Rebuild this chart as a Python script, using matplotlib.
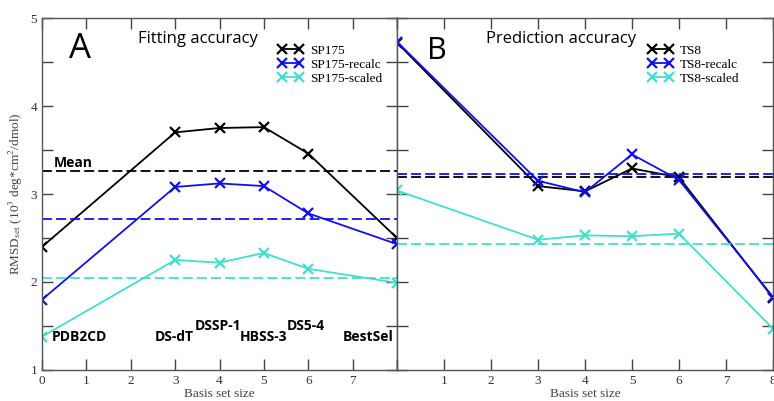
import matplotlib
matplotlib.use("Agg")
import matplotlib.pyplot as plt
from matplotlib.ticker import MultipleLocator, FixedLocator, FixedFormatter

# ---------------- data ----------------
basis_sizes = [0, 3, 4, 5, 6, 8]

sp175 = [2.40, 3.70, 3.75, 3.76, 3.46, 2.50]
sp175_recalc = [1.80, 3.08, 3.12, 3.09, 2.78, 2.43]
sp175_scaled = [1.38, 2.25, 2.22, 2.33, 2.15, 1.99]
sp175_means = [3.26, 2.72, 2.05]

ts8 = [4.72, 3.09, 3.03, 3.29, 3.19, 1.82]
ts8_recalc = [4.73, 3.15, 3.02, 3.45, 3.16, 1.83]
ts8_scaled = [3.04, 2.48, 2.53, 2.52, 2.55, 1.47]
ts8_means = [3.19, 3.23, 2.43]

left_labels = ["SP175", "SP175-recalc", "SP175-scaled"]
right_labels = ["TS8", "TS8-recalc", "TS8-scaled"]

left_xticklabels = ["0", "1", "2", "3", "4", "5", "6", "7", ""]
right_xticklabels = ["", "1", "2", "3", "4", "5", "6", "7", "8"]

method_names = ["PDB2CD", "DS-dT", "DSSP-1", "HBSS-3", "DS5-4", "BestSel"]
method_pos = [(0.22, 1.375), (2.55, 1.375), (3.45, 1.50), (4.46, 1.375), (5.52, 1.50), (6.78, 1.375)]

colors = ["#000000", "#1010ee", "#40e0d0"]

# ---------------- figure ----------------
plt.rcParams["mathtext.fontset"] = "stix"
serif = "Liberation Serif"
sans = "Open Sans"

W, H = 774, 401
fig = plt.figure(figsize=(W / 100, H / 100), dpi=100)
axL = fig.add_axes([42 / W, (H - 370) / H, 355 / W, 352 / H])
axR = fig.add_axes([397 / W, (H - 370) / H, 376 / W, 352 / H])

def style(ax, xticklabels):
    ax.set_xlim(0, 8)
    ax.set_ylim(1, 5)
    ax.xaxis.set_major_locator(FixedLocator(range(9)))
    ax.xaxis.set_major_formatter(FixedFormatter(xticklabels))
    ax.yaxis.set_major_locator(MultipleLocator(1))
    ax.yaxis.set_minor_locator(MultipleLocator(0.5))
    ax.tick_params(which="both", direction="in", top=True, right=True,
                   color="#444444", width=1.0)
    ax.tick_params(which="major", length=8)
    ax.tick_params(which="minor", length=8)
    ax.tick_params(axis="x", which="minor", bottom=False, top=False)
    for lab in ax.get_xticklabels() + ax.get_yticklabels():
        lab.set_fontfamily(serif)
        lab.set_fontsize(9.5)
        lab.set_color("#333333")
    for sp in ax.spines.values():
        sp.set_color("#555555")
        sp.set_linewidth(1.0)
    ax.set_xlabel("Basis set size", fontfamily=serif, fontsize=9.5, color="#444444", labelpad=1)

style(axL, left_xticklabels)
style(axR, right_xticklabels)
axR.tick_params(labelleft=False)

def draw(ax, series, means, labels):
    handles = []
    for ys, m, c, lab in zip(series, means, colors, labels):
        h, = ax.plot(basis_sizes, ys, color=c, lw=1.3, marker="x", ms=6.5, mew=1.6, label=lab)
        handles.append(h)
        ax.axhline(m, color=c, lw=1.3, dashes=(5.5, 2.3))
    return handles

hL = draw(axL, [sp175, sp175_recalc, sp175_scaled], sp175_means, left_labels)
hR = draw(axR, [ts8, ts8_recalc, ts8_scaled], ts8_means, right_labels)

for ax, h, x0 in [(axL, hL, 0.665), (axR, hR, 0.668)]:
    ax.legend(handles=h, loc="upper left", bbox_to_anchor=(x0, 0.925), frameon=False,
              borderpad=0, borderaxespad=0, numpoints=2, handlelength=1.9,
              handletextpad=0.5, labelspacing=0.15,
              prop={"family": serif, "size": 9.5})

axL.set_ylabel(r"RMSD$_{\rm set}$ (10$^3$ deg*cm$^2$/dmol)", fontfamily=serif,
               fontsize=9.5, color="#444444", labelpad=4)

# annotations
axL.text(0.61, 4.65, "A", fontfamily=sans, fontsize=25, va="center", ha="left")
axR.text(0.64, 4.62, "B", fontfamily=sans, fontsize=22, va="center", ha="left")
axL.text(2.16, 4.76, "Fitting accuracy", fontfamily=sans, fontsize=12, va="center", ha="left")
axR.text(1.89, 4.76, "Prediction accuracy", fontfamily=sans, fontsize=12, va="center", ha="left")
axL.text(0.27, 3.35, "Mean", fontfamily=sans, fontsize=10, fontweight="bold", va="center", ha="left")
for name, (x, y) in zip(method_names, method_pos):
    axL.text(x, y, name, fontfamily=sans, fontsize=10, fontweight="bold", va="center", ha="left")

fig.savefig("out.png", dpi=100)
